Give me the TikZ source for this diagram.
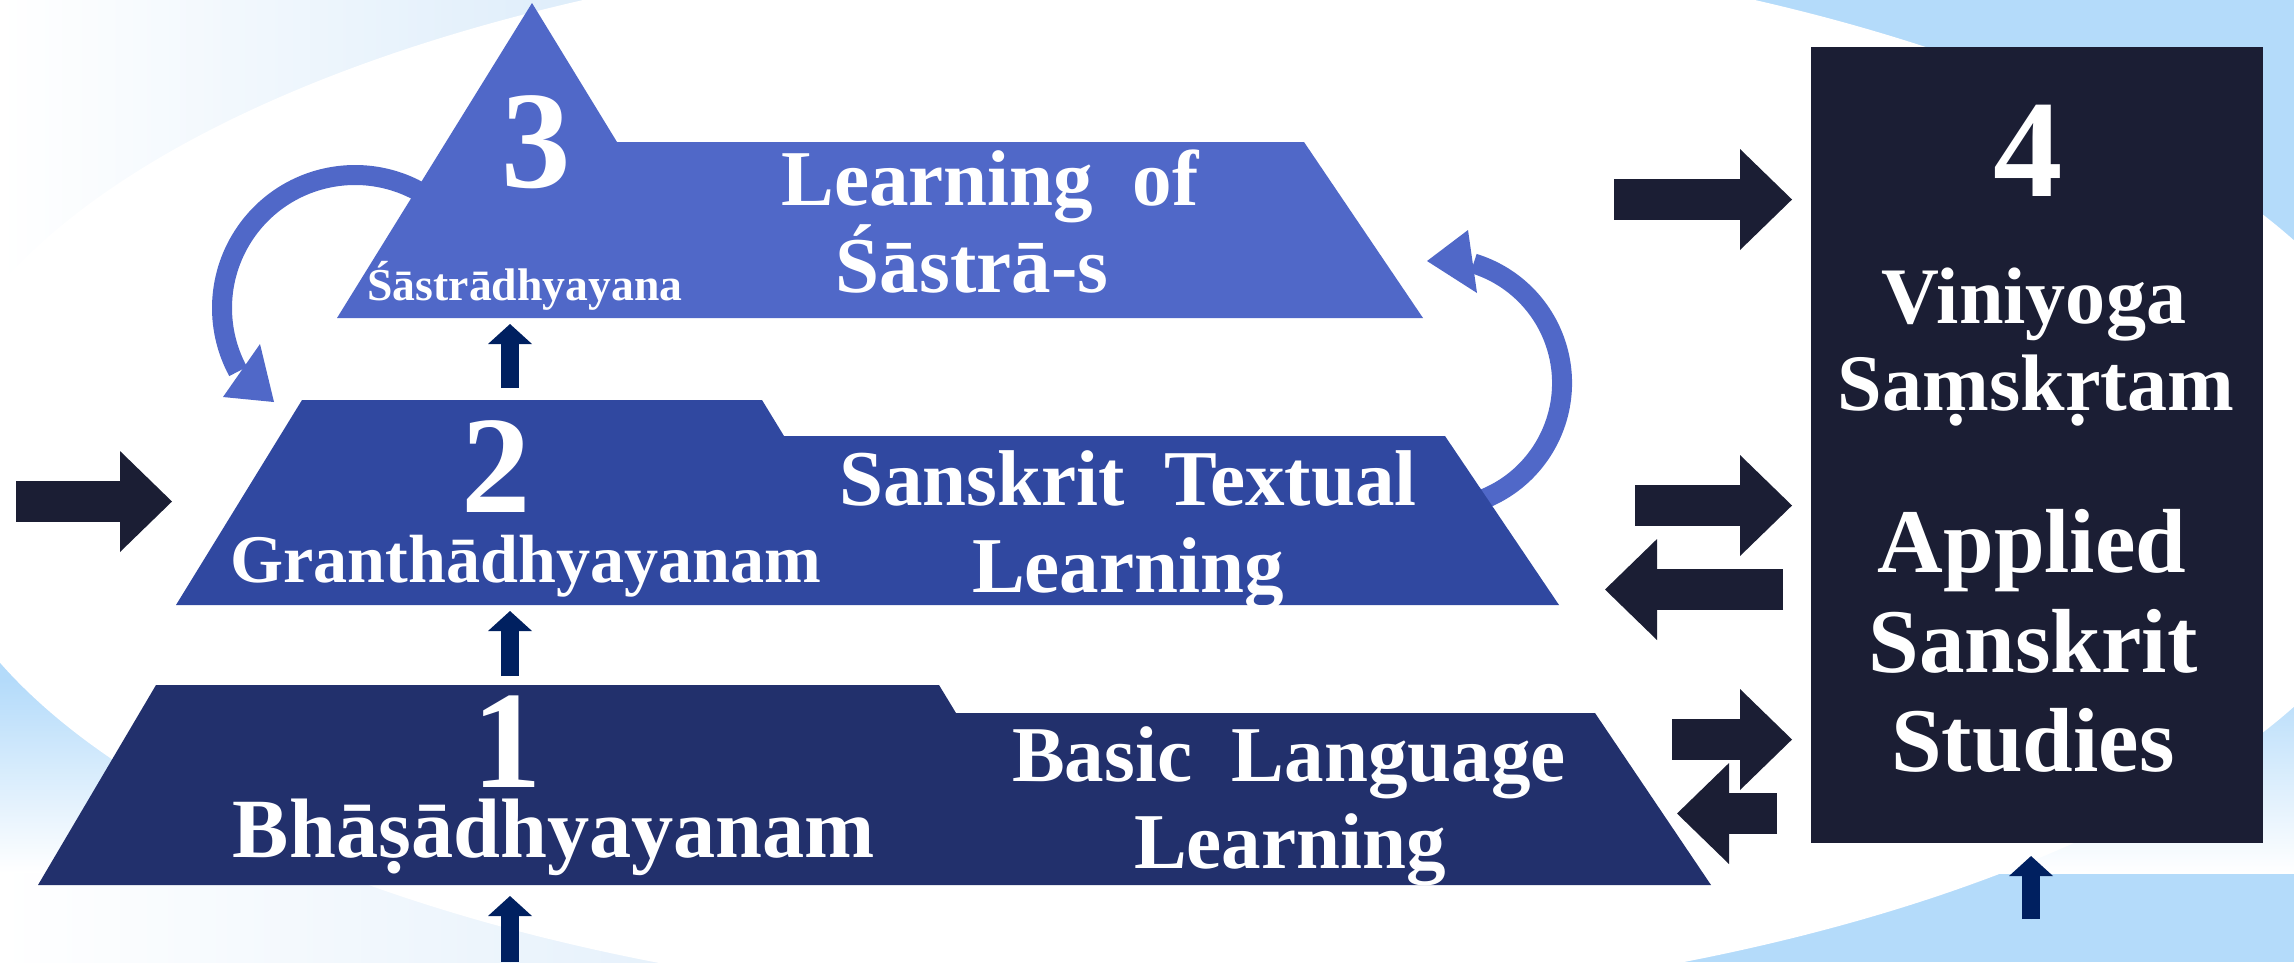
\documentclass[tikz,border=0pt]{standalone}
\usepackage{fontspec}
\setmainfont{Liberation Serif}
\usetikzlibrary{arrows.meta}
\definecolor{bgblue}{RGB}{180,219,250}
\definecolor{tlblue}{RGB}{220,236,250}
\definecolor{blblue}{RGB}{228,240,251}
\definecolor{tierthree}{RGB}{80,104,200}
\definecolor{tiertwo}{RGB}{48,72,160}
\definecolor{tierone}{RGB}{34,48,108}
\definecolor{boxdark}{RGB}{27,30,52}
\definecolor{navyarrow}{RGB}{0,32,96}
\newcommand\fsdigit{\fontsize{39.5pt}{42pt}\selectfont}
\newcommand\fsmain{\fontsize{22.5pt}{25pt}\selectfont}
\newcommand\fssmall{\fontsize{13pt}{15pt}\selectfont}
\newcommand\fsgrantha{\fontsize{19.4pt}{22pt}\selectfont}
\newcommand\fsbhasa{\fontsize{24pt}{27pt}\selectfont}
\newcommand\fsviniyoga{\fontsize{22.8pt}{25pt}\selectfont}
\newcommand\fsapplied{\fontsize{25.9pt}{28pt}\selectfont}
\begin{document}
\begin{tikzpicture}[x=0.1mm,y=-0.1mm,
  lbl/.style={text=white, anchor=base, inner sep=0pt},
  bigarrow/.style={draw=boxdark, fill=boxdark, line width=4.1mm, -{Triangle[width=10.1mm,length=5.2mm,line width=0pt]}},
  uparrow/.style={draw=navyarrow, fill=navyarrow, line width=1.8mm, -{Triangle[width=4.4mm,length=2mm,line width=0pt]}},
  curvearrow/.style={draw=tierthree, line width=2mm},
]
\useasboundingbox (0,0) rectangle (2294,962);
\clip (0,0) rectangle (2294,962);
% background
\fill[bgblue] (0,0) rectangle (2294,962);
\shade[left color=white, right color=tlblue] (0,0) rectangle (620,320);
\shade[top color=bgblue, bottom color=white] (0,680) rectangle (2294,873);
\shade[left color=white, right color=blblue] (0,873) rectangle (720,962);
\fill[white] (1169,473.5) ellipse [x radius=1249, y radius=536];
% curved arrows (behind tiers)
\draw[curvearrow] (355,308) ++(-55:133) arc[start angle=-55, end angle=-208.5, radius=133];
\draw[curvearrow] (1437,383) ++(70:125) arc[start angle=70, end angle=-73, radius=125];
% tiers
\fill[tierthree] (532,3) -- (617,142) -- (1304,142) -- (1423,318) -- (337,318) -- cycle;
\fill[tiertwo] (302,400) -- (762,400) -- (784,436) -- (1445,436) -- (1559,605) -- (176,605) -- cycle;
\fill[tierone] (156,685) -- (939,685) -- (956,713) -- (1595,713) -- (1711,885) -- (38,885) -- cycle;
% curved arrow heads
\fill[tierthree] (260,344) -- (274,402) -- (223,397) -- cycle;
\fill[tierthree] (1468,230) -- (1427,261) -- (1477,293) -- cycle;
% box 4
\node[fill=boxdark, inner sep=0pt, minimum width=45.2mm, minimum height=79.6mm] (box4) at (2037,445) {};
% arrow end points
\coordinate (inS) at (16,501.5);   \coordinate (inE) at (172,501.5);
\coordinate (tS) at (1614,199.5);  \coordinate (tE) at (1792,199.5);
\coordinate (mrS) at (1635,505.5); \coordinate (mrE) at (1792,505.5);
\coordinate (mlS) at (1783,589.5); \coordinate (mlE) at (1605,589.5);
\coordinate (lrS) at (1672,739.5); \coordinate (lrE) at (1792,739.5);
\coordinate (llS) at (1777,813.5); \coordinate (llE) at (1677,813.5);
\coordinate (u1S) at (510,388);  \coordinate (u1E) at (510,324);
\coordinate (u2S) at (510,676);  \coordinate (u2E) at (510,611);
\coordinate (u3S) at (510,962);  \coordinate (u3E) at (510,896);
\coordinate (u4S) at (2031,919); \coordinate (u4E) at (2031,856);
\draw[bigarrow] (inS) -- (inE);
\draw[bigarrow] (tS) -- (tE);
\draw[bigarrow] (mrS) -- (mrE);
\draw[bigarrow] (mlS) -- (mlE);
\draw[bigarrow] (lrS) -- (lrE);
\draw[bigarrow] (llS) -- (llE);
\draw[uparrow] (u1S) -- (u1E);
\draw[uparrow] (u2S) -- (u2E);
\draw[uparrow] (u3S) -- (u3E);
\draw[uparrow] (u4S) -- (u4E);
% texts
\node[lbl, font=\bfseries\fsdigit] (n3) at (536,187) {3};
\node[lbl, font=\bfseries\fssmall] (t3a) at (525,300) {Śāstrādhyayana};
\node[lbl, font=\bfseries\fsmain] (t3b) at (990,205) {Learning\ \ of};
\node[lbl, font=\bfseries\fsmain] (t3c) at (972,292) {Śāstrā-s};
\node[lbl, font=\bfseries\fsdigit] (n2) at (496,512) {2};
\node[lbl, font=\bfseries\fsgrantha] (t2a) at (526,582) {Granthādhyayanam};
\node[lbl, font=\bfseries\fsmain] (t2b) at (1128,505) {Sanskrit\ \ Textual};
\node[lbl, font=\bfseries\fsmain] (t2c) at (1128,592) {Learning};
\node[lbl, font=\bfseries\fsdigit] (n1) at (507,787) {1};
\node[lbl, font=\bfseries\fsbhasa] (t1a) at (554,857) {Bhāṣādhyayanam};
\node[lbl, font=\bfseries\fsmain] (t1b) at (1289,781) {Basic\ \ Language};
\node[lbl, font=\bfseries\fsmain] (t1c) at (1290,868) {Learning};
\node[lbl, font=\bfseries\fsdigit] (n4) at (2028,196) {4};
\node[lbl, font=\bfseries\fsviniyoga] (t4a) at (2034,323) {Viniyoga};
\node[lbl, font=\bfseries\fsviniyoga] (t4b) at (2036,410) {Saṃskṛtam};
\node[lbl, font=\bfseries\fsapplied] (t4c) at (2032,572) {Applied};
\node[lbl, font=\bfseries\fsapplied] (t4d) at (2033,672) {Sanskrit};
\node[lbl, font=\bfseries\fsapplied] (t4e) at (2033,771) {Studies};
\end{tikzpicture}
\end{document}
